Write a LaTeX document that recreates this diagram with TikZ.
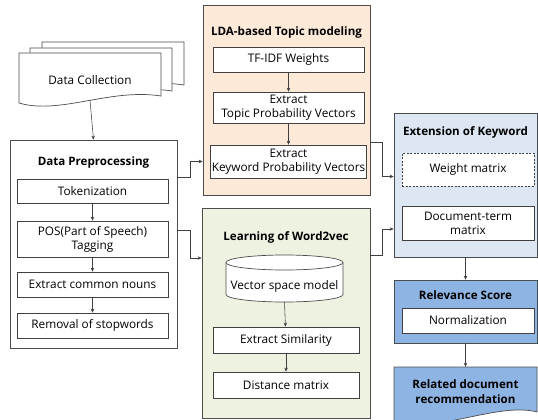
\documentclass[tikz,border=0pt]{standalone}
\usepackage{fontspec}
\setmainfont{Open Sans}
\usetikzlibrary{arrows.meta, positioning, calc}
\definecolor{ldafill}{HTML}{FCE9D8}
\definecolor{w2vfill}{HTML}{EDF2E1}
\definecolor{extfill}{HTML}{DDE7F3}
\definecolor{relfill}{HTML}{8DB4E2}
\tikzset{
  grp/.style={rectangle,draw=black!70,line width=0.7pt},
  obox/.style={grp,fill=ldafill},
  gbox/.style={grp,fill=w2vfill},
  bbox/.style={grp,fill=extfill},
  dbox/.style={grp,fill=relfill},
  pbox/.style={grp,fill=white},
  wbox/.style={rectangle,draw=black!75,fill=white,line width=0.7pt,align=center,inner sep=1pt,font=\fontsize{11.8}{14}\selectfont},
  ttl/.style={align=center,font=\fontsize{11.6}{15}\selectfont\bfseries},
  txt/.style={align=center,font=\fontsize{11.8}{14}\selectfont},
  docline/.style={draw=black!70,line width=0.7pt},
  arr/.style={-{Stealth[length=4pt,width=3.5pt]},line width=0.55pt,draw=black!75}
}

\begin{document}
\begin{tikzpicture}[x=1pt,y=-1pt]
  \useasboundingbox (0,0) rectangle (538,420);

  % data collection (stacked documents)
  \foreach \dx/\dy in {23/-11, 11/-5, 0/0} {
    \begin{scope}[shift={(\dx,\dy)}]
      \draw[docline,fill=white] (19,53) -- (161,53) -- (161,96)
        .. controls (110,88) and (60,115) .. (19,103) -- cycle;
    \end{scope}
  }
  \node[txt] (collect) at (90,80) {Data Collection};
  \coordinate (collectB) at (90,100);

  % preprocessing
  \node[pbox, minimum width=167pt, minimum height=208pt] (prep) at (93.5,244) {};
  \node[ttl] (prepT) at (93.5,162) {Data Preprocessing};
  \node[wbox, minimum width=151pt, minimum height=24pt] (tok)  at (92.5,191)   {Tokenization};
  \node[wbox, minimum width=151pt, minimum height=36pt] (pos)  at (92.5,239)   {POS(Part of Speech)\\Tagging};
  \node[wbox, minimum width=151pt, minimum height=25pt] (noun) at (92.5,284.5) {Extract common nouns};
  \node[wbox, minimum width=151pt, minimum height=25pt] (stop) at (92.5,325.5) {Removal of stopwords};

  % LDA
  \node[obox, minimum width=167pt, minimum height=190pt] (lda) at (286.5,100) {};
  \node[ttl] (ldaT) at (286.5,32) {LDA-based Topic modeling};
  \node[wbox, minimum width=151pt, minimum height=25pt] (tfidf) at (288.5,59.5)  {TF-IDF Weights};
  \node[wbox, minimum width=151pt, minimum height=31pt] (topic) at (288.5,107.5) {Extract\\Topic Probability Vectors};
  \node[wbox, minimum width=151pt, minimum height=33pt] (kw)    at (288.5,161.5) {Extract\\Keyword Probability Vectors};

  % word2vec
  \node[gbox, minimum width=168pt, minimum height=210pt] (w2v) at (286,313) {};
  \node[ttl] (w2vT) at (286,237) {Learning of Word2vec};
  \draw[docline,fill=white] (226,262.5) -- (226,294.5)
    arc[start angle=180,end angle=360,x radius=58.5pt,y radius=7.5pt] -- (343,262.5);
  \draw[docline,fill=white] (284.5,262.5) ellipse [x radius=58.5pt,y radius=7.5pt];
  \node[txt, minimum width=117pt, minimum height=32pt, inner sep=0pt] (vsm) at (284.5,286) {Vector space model};
  \node[wbox, minimum width=146pt, minimum height=26pt] (sim)  at (286,340) {Extract Similarity};
  \node[wbox, minimum width=146pt, minimum height=26pt] (dist) at (286,385) {Distance matrix};

  % keyword extension
  \node[bbox, minimum width=143pt, minimum height=144pt] (ext) at (465.5,185) {};
  \node[ttl] (extT) at (465.5,132) {Extension of Keyword};
  \node[wbox, dash pattern=on 2pt off 1.5pt, minimum width=132pt, minimum height=33pt] (weight) at (468,169.5) {Weight matrix};
  \node[wbox, minimum width=132pt, minimum height=34pt] (docterm) at (468,223) {Document-term\\matrix};

  % relevance score
  \node[dbox, minimum width=143pt, minimum height=63pt] (rel) at (465.5,311.5) {};
  \node[ttl] (relT) at (465.5,295) {Relevance Score};
  \node[wbox, minimum width=132pt, minimum height=25pt] (norm) at (468,320.5) {Normalization};

  % recommendation (document shape)
  \draw[docline,fill=relfill] (394,367) -- (537,367) -- (537,412)
    .. controls (500,402) and (440,432) .. (394,424) -- cycle;
  \node[ttl, minimum height=50pt] (reco) at (465.5,392) {Related document\\recommendation};

  % connectors
  \draw[arr] (collectB) -- (prep.north);
  \draw[arr] (tok) -- (pos);
  \draw[arr] (pos) -- (noun);
  \draw[arr] (noun) -- (stop);
  \draw[arr] (tfidf) -- (topic);
  \draw[arr] (topic) -- (kw);
  \draw[arr] (vsm.south) -- (sim);
  \draw[arr] (sim) -- (dist);
  \draw[arr] ([yshift=67pt]prep.east) -- ++(13,0) |- (lda.west |- kw);
  \draw[arr] ([yshift=14pt]prep.east) -- ++(13,0) |- ([yshift=55pt]w2v.west);
  \draw[arr] ([yshift=-42pt]lda.east) -- ++(12,0) |- ($(ext.west |- weight)+(0,-7pt)$);
  \draw[arr] ([yshift=58pt]w2v.east) -- ++(12,0) |- ($(ext.west |- docterm)+(0,-6pt)$);
  \draw[arr] (ext) -- (rel);
  \draw[arr] (rel) -- (reco);
\end{tikzpicture}
\end{document}
